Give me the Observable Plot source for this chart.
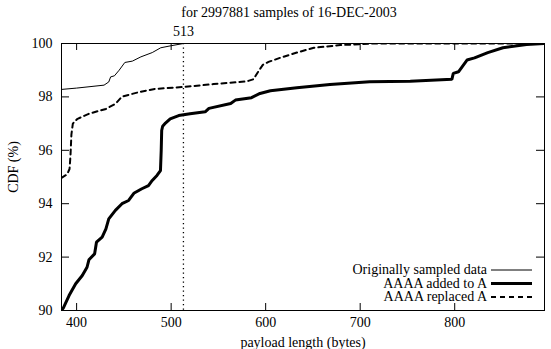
<!DOCTYPE html>
<html><head><meta charset="utf-8">
<script src="https://cdn.jsdelivr.net/npm/d3@7"></script>
<script src="https://cdn.jsdelivr.net/npm/@observablehq/plot@0.6"></script>
<style>body{margin:0;background:#fff} #chart{width:551px;height:349px}</style>
</head><body><div id="chart"></div>
<script>
// ---- data ----
const titleText = "for 2997881 samples of 16-DEC-2003";
const xLabel = "payload length (bytes)";
const yLabel = "CDF (%)";
const seriesNames = ["Originally sampled data", "AAAA added to A", "AAAA replaced A"];
const markerX = 513;
const xTicks = [400, 500, 600, 700, 800];
const yTicks = [90, 92, 94, 96, 98, 100];

const xOriginal = [384, 400, 429, 434, 436, 440, 445, 451, 459, 468, 480, 489, 499, 513, 895];
const yOriginal = [98.28, 98.33, 98.44, 98.56, 98.75, 98.79, 99.0, 99.29, 99.34, 99.5, 99.66, 99.84, 99.91, 100, 100];

const xAdded = [384, 386, 392, 399, 406, 411, 413, 419, 421, 427, 431, 434, 441, 448, 455, 460.5, 469, 476, 480, 485, 488.7, 489.5, 490, 491, 494, 499, 508, 520, 536, 540, 563, 568, 585, 594, 605, 633, 668, 710, 753, 797, 798.5, 804, 813, 821, 835, 851, 876, 895];
const yAdded = [90.0, 90.1, 90.56, 91.0, 91.31, 91.62, 91.9, 92.12, 92.56, 92.75, 93.06, 93.43, 93.75, 94.0, 94.12, 94.39, 94.56, 94.68, 94.87, 95.06, 95.24, 96.0, 96.74, 96.9, 97.02, 97.18, 97.30, 97.37, 97.44, 97.57, 97.75, 97.88, 97.97, 98.13, 98.23, 98.34, 98.46, 98.57, 98.59, 98.66, 98.88, 98.94, 99.38, 99.46, 99.66, 99.84, 99.96, 100];

const xReplaced = [384, 390, 392.5, 393.5, 394.5, 396, 398, 401, 413, 431, 441, 448, 466, 483, 512, 545, 580, 587, 592, 597, 603, 615, 633, 651, 679, 715, 895];
const yReplaced = [94.97, 95.1, 95.3, 95.8, 96.6, 97.0, 97.08, 97.18, 97.37, 97.55, 97.74, 98.01, 98.18, 98.30, 98.37, 98.48, 98.58, 98.66, 98.94, 99.2, 99.31, 99.46, 99.66, 99.84, 99.94, 100, 100];

// ---- layout ----
const W = 551, H = 349, mL = 61, mR = 7, mT = 43, mB = 39;
const pw = W - mL - mR, ph = H - mT - mB;
const font = "'Liberation Serif', 'Times New Roman', serif";
const fs = 14;
const rows = (xs, ys) => xs.map((x, i) => ({x, y: ys[i]}));
const styles = [
  {stroke: "#000", strokeWidth: 1},
  {stroke: "#000", strokeWidth: 3},
  {stroke: "#000", strokeWidth: 2, strokeDasharray: "5,4"}
];

const plot = Plot.plot({
  width: W, height: H,
  marginLeft: mL, marginRight: mR, marginTop: mT, marginBottom: mB,
  style: {fontFamily: font, fontSize: fs + "px", background: "#fff", color: "#000"},
  x: {domain: [384, 895]},
  y: {domain: [90, 100]},
  marks: [
    Plot.ruleX([markerX], {x: d => d, stroke: "#000", strokeWidth: 1.3, strokeDasharray: "1.3,3.2"}),
    Plot.line(rows(xOriginal, yOriginal), {x: "x", y: "y", ...styles[0], clip: true}),
    Plot.line(rows(xAdded, yAdded), {x: "x", y: "y", ...styles[1], strokeLinejoin: "miter", clip: true}),
    Plot.line(rows(xReplaced, yReplaced), {x: "x", y: "y", ...styles[2], clip: true}),
    Plot.frame({stroke: "#000", strokeWidth: 1}),
    Plot.tickX(xTicks, {x: d => d, insetTop: ph - 7, stroke: "#000"}),
    Plot.tickX(xTicks, {x: d => d, insetBottom: ph - 7, stroke: "#000"}),
    Plot.tickY(yTicks, {y: d => d, insetRight: pw - 8, stroke: "#000"}),
    Plot.tickY(yTicks, {y: d => d, insetLeft: pw - 8, stroke: "#000"}),
    Plot.axisX({ticks: xTicks, tickSize: 0, tickPadding: 7, label: null, fontSize: fs}),
    Plot.axisY({ticks: yTicks, tickSize: 0, tickPadding: 9, label: null, fontSize: fs}),
    Plot.text([titleText], {frameAnchor: "top", lineAnchor: "middle", dx: -14, dy: -31, fontSize: fs}),
    Plot.text([markerX], {x: d => d, text: d => String(d), frameAnchor: "top", lineAnchor: "middle", dy: -12, fontSize: fs}),
    Plot.text([xLabel], {frameAnchor: "bottom", lineAnchor: "middle", dy: 32, fontSize: fs}),
    Plot.text([yLabel], {frameAnchor: "left", textAnchor: "middle", lineAnchor: "middle", dx: -48, dy: -10, rotate: -90, fontSize: fs})
  ]
});

// legend (key) inside the plot, bottom right
const svg = d3.select(plot);
const key = svg.append("g").attr("font-family", font).attr("font-size", fs);
const keyTextX = 487, keyLineX1 = 491, keyLineX2 = 532, keyY0 = 270, keyDy = 13.5;
seriesNames.forEach((name, i) => {
  const y = keyY0 + i * keyDy;
  key.append("text").attr("x", keyTextX).attr("y", y).attr("dy", "0.32em")
    .attr("text-anchor", "end").attr("fill", "#000").text(name);
  const ln = key.append("line").attr("x1", keyLineX1).attr("x2", keyLineX2)
    .attr("y1", y).attr("y2", y).attr("stroke", styles[i].stroke)
    .attr("stroke-width", styles[i].strokeWidth);
  if (styles[i].strokeDasharray) ln.attr("stroke-dasharray", styles[i].strokeDasharray);
});

document.getElementById("chart").appendChild(plot);
</script>
</body></html>
